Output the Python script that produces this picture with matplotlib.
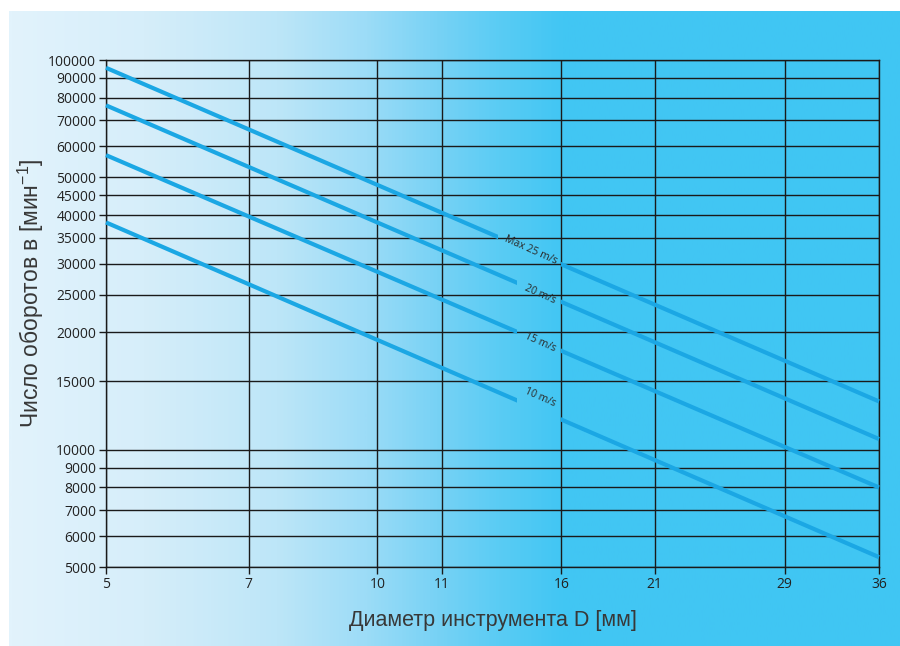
import matplotlib.pyplot as plt
import numpy as np
from matplotlib.colors import LinearSegmentedColormap
from matplotlib.patches import Rectangle

# diameter range (mm) and rpm at both ends for each cutting speed
diam = [5, 36]
rpm_25 = [95500, 13300]
rpm_20 = [76500, 10650]
rpm_15 = [57000, 8000]
rpm_10 = [38300, 5300]
line_labels = ['Max 25 m/s', '20 m/s', '15 m/s', '10 m/s']
# where each line is interrupted for its label (x in mm)
gap_start = [13.6, 14.3, 14.3, 14.3]
gap_end = [16, 16, 16, 16]
label_x = [14.8, 15.15, 15.15, 15.15]
label_y = [32500, 25000, 18900, 13600]

xtick_pos = [5, 7.2, 10, 11.8, 16, 20.3, 28.3, 36]
xtick_labels = ['5', '7', '10', '11', '16', '21', '29', '36']
yticks = [5000, 6000, 7000, 8000, 9000, 10000, 15000, 20000, 25000, 30000,
          35000, 40000, 45000, 50000, 60000, 70000, 80000, 90000, 100000]

fig = plt.figure(figsize=(9, 6.46), dpi=100)

# gradient panel behind the chart
bg = fig.add_axes([9/900, 0, 891/900, 635/646])
bg.set_axis_off()
grad_cmap = LinearSegmentedColormap.from_list('panel', [
    (0.0, '#e2f3fc'), (0.15, '#d6eefa'), (0.30, '#bde6f8'), (0.40, '#9cdcf7'),
    (0.48, '#78d2f5'), (0.55, '#5accf4'), (0.62, '#42c6f3'), (1.0, '#40c6f3')])
bg.imshow(np.linspace(0, 1, 512).reshape(1, -1), aspect='auto', cmap=grad_cmap,
          extent=[0, 1, 0, 1])
bg.set_xlim(0, 1)
bg.set_ylim(0, 1)

ax = fig.add_axes([106/900, 1 - 567/646, 773/900, 507/646])
ax.set_facecolor('none')
ax.set_xscale('log')
ax.set_yscale('log')
ax.set_xlim(5, 36)
ax.set_ylim(5000, 100000)

line_col = '#1ba7e4'
for rpm, lab, g0, g1, lx, ly in zip([rpm_25, rpm_20, rpm_15, rpm_10], line_labels,
                                     gap_start, gap_end, label_x, label_y):
    for clip in [Rectangle((4, 1000), g0 - 4, 200000), Rectangle((g1, 1000), 40 - g1, 200000)]:
        ln, = ax.plot(diam, rpm, color=line_col, lw=3.0, solid_capstyle='butt', zorder=3)
        clip.set_transform(ax.transData)
        ln.set_clip_path(clip)
    ax.text(lx, ly, lab, fontsize=7.5, color='#2a2a2a', rotation=-24,
            ha='center', va='center', family='Open Sans', zorder=4)

ax.set_xticks(xtick_pos)
ax.set_xticklabels(xtick_labels)
ax.set_yticks(yticks)
ax.set_yticklabels([str(v) for v in yticks])
ax.minorticks_off()
ax.grid(True, color='#1a1a1a', lw=1.0, zorder=1)
for s in ax.spines.values():
    s.set_color('#1a1a1a')
    s.set_linewidth(1.0)
ax.tick_params(length=5, width=1, color='#1a1a1a', labelcolor='#222222',
               labelsize=10, pad=2)
for t in ax.get_xticklabels() + ax.get_yticklabels():
    t.set_family('Open Sans')

ax.set_xlabel('Диаметр инструмента D [мм]', fontsize=15.5, color='#383838',
              family='Liberation Sans', labelpad=13)
ax.set_ylabel('Число оборотов в [мин$^{\\mathregular{-1}}$]', fontsize=16.5,
              color='#383838', family='Liberation Sans')
ax.yaxis.set_label_coords(-0.077, 0.54)

fig.savefig('out.png', dpi=100)
